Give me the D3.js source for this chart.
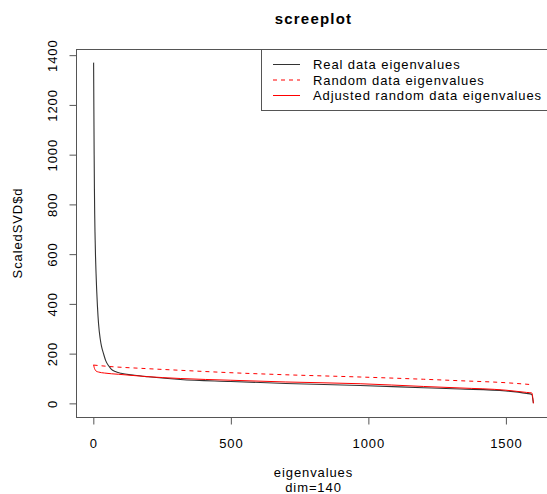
<!DOCTYPE html>
<html>
<head>
<meta charset="utf-8">
<script src="https://cdn.jsdelivr.net/npm/d3@7"></script>
<style>
  body { margin: 0; background: #fff; }
  svg text { font-family: "Liberation Sans", Arial, sans-serif; fill: #000; }
</style>
</head>
<body>
<div id="chart"></div>
<script>
// eigenvalue index / value pairs
var realX = [1, 2, 3, 4, 5, 6, 7, 8, 10, 12, 15, 19, 25, 30, 37, 45, 55, 65, 80, 100, 150, 200, 316, 500, 700, 970, 1200, 1333, 1500, 1575, 1594, 1600];
var realY = [1370, 1180, 1000, 860, 760, 690, 640, 590, 520, 460, 390, 320, 260, 228, 200, 172, 152, 138, 128, 121, 113, 107, 96, 88, 80, 72, 63, 58, 50, 40, 36, 1];

var randX = [1, 50, 189, 316, 485, 700, 970, 1200, 1333, 1500, 1598];
var randY = [154, 149, 140, 133, 124, 115, 106, 97, 91, 83, 75];

var adjX = [1, 3, 6, 10, 19, 40, 91, 189, 316, 500, 700, 970, 1200, 1333, 1500, 1575, 1594, 1600];
var adjY = [155, 145, 136, 130, 126, 122, 117, 108, 100, 93, 86, 79, 68, 62, 53, 44, 42, 0];

var xTicks = [0, 500, 1000, 1500];
var yTicks = [0, 200, 400, 600, 800, 1000, 1200, 1400];

var legendLabels = ["Real data eigenvalues", "Random data eigenvalues", "Adjusted random data eigenvalues"];

var draw_scree = function() {
    var width = 547, height = 494;
    var mLeft = 76, mRight = 551, mTop = 49, mBottom = 417;

    var svg = d3.select("#chart").append("svg")
        .attr("width", width)
        .attr("height", height);

    svg.append("rect")
        .attr("width", width)
        .attr("height", height)
        .attr("fill", "#fff");

    var x = d3.scaleLinear().domain([-63, 1664]).range([mLeft, mRight]);
    var y = d3.scaleLinear().domain([-54.8, 1424.8]).range([mBottom, mTop]);

    function pairs(xs, ys) {
        return xs.map((d, i) => [d, ys[i]]);
    }

    var line = d3.line()
        .x(d => x(d[0]))
        .y(d => y(d[1]))
        .curve(d3.curveMonotoneX);

    // plot box
    svg.append("rect")
        .attr("x", mLeft + 0.5)
        .attr("y", mTop + 0.5)
        .attr("width", mRight - mLeft)
        .attr("height", mBottom - mTop)
        .attr("fill", "none")
        .attr("stroke", "#555")
        .attr("stroke-width", 1);

    function styleTicks(g) {
        g.selectAll(".tick line").attr("stroke", "#555");
        g.selectAll(".tick text")
            .attr("dy", 0)
            .style("font-size", "13px")
            .style("letter-spacing", "0.9px")
            .style("font-family", "Liberation Sans, Arial, sans-serif")
            .attr("fill", "#000");
    }

    // axes
    var xAxis = d3.axisBottom(x).tickValues(xTicks).tickSize(7).tickFormat(d3.format("d"));
    var gx = svg.append("g")
        .attr("transform", "translate(0," + (mBottom + 0.5) + ")")
        .call(xAxis);
    gx.select(".domain").remove();
    gx.append("line")
        .attr("x1", x(0)).attr("x2", x(1500))
        .attr("stroke", "#555");
    styleTicks(gx);
    gx.selectAll(".tick text").attr("y", 30);

    var yAxis = d3.axisLeft(y).tickValues(yTicks).tickSize(7).tickFormat(d3.format("d"));
    var gy = svg.append("g")
        .attr("transform", "translate(" + (mLeft + 0.5) + ",0)")
        .call(yAxis);
    gy.select(".domain").remove();
    gy.append("line")
        .attr("y1", y(0)).attr("y2", y(1400))
        .attr("stroke", "#555");
    styleTicks(gy);
    gy.selectAll(".tick text")
        .attr("x", 0)
        .attr("y", 0)
        .attr("text-anchor", "middle")
        .attr("transform", "translate(-20,0) rotate(-90)");

    // series
    svg.append("path")
        .datum(pairs(randX, randY))
        .attr("d", line)
        .style("fill", "none")
        .style("stroke", "#ff0000")
        .style("stroke-width", 1)
        .style("stroke-dasharray", "4,4");

    svg.append("path")
        .datum(pairs(realX, realY))
        .attr("d", line)
        .style("fill", "none")
        .style("stroke", "#333")
        .style("stroke-width", 1.1);

    svg.append("path")
        .datum(pairs(adjX, adjY))
        .attr("d", line)
        .style("fill", "none")
        .style("stroke", "#ff0000")
        .style("stroke-width", 1);

    // legend
    var lg = svg.append("g");
    lg.append("rect")
        .attr("x", 261.5)
        .attr("y", mTop + 0.5)
        .attr("width", mRight - 261)
        .attr("height", 61)
        .attr("fill", "#fff")
        .attr("stroke", "#555");
    var legendStyles = [
        {stroke: "#333", dash: "none"},
        {stroke: "#ff0000", dash: "4,4"},
        {stroke: "#ff0000", dash: "none"}
    ];
    legendLabels.forEach((lab, i) => {
        var ly = 64.5 + i * 15.5;
        lg.append("line")
            .attr("x1", 273).attr("x2", 300)
            .attr("y1", ly).attr("y2", ly)
            .style("stroke", legendStyles[i].stroke)
            .style("stroke-width", 1)
            .style("stroke-dasharray", legendStyles[i].dash);
        lg.append("text")
            .attr("x", 313)
            .attr("y", ly + 4.5)
            .style("font-size", "13px")
            .style("letter-spacing", "0.9px")
            .text(lab);
    });

    // titles
    svg.append("text")
        .attr("x", (mLeft + mRight) / 2)
        .attr("y", 24)
        .attr("text-anchor", "middle")
        .style("font-size", "15px")
        .style("font-weight", "bold")
        .style("letter-spacing", "1.2px")
        .text("screeplot");

    svg.append("text")
        .attr("x", (mLeft + mRight) / 2)
        .attr("y", 477)
        .attr("text-anchor", "middle")
        .style("font-size", "13px")
        .style("letter-spacing", "0.9px")
        .text("eigenvalues");

    svg.append("text")
        .attr("x", (mLeft + mRight) / 2)
        .attr("y", 492)
        .attr("text-anchor", "middle")
        .style("font-size", "13px")
        .style("letter-spacing", "0.9px")
        .text("dim=140");

    svg.append("text")
        .attr("transform", "translate(21.5," + ((mTop + mBottom) / 2) + ") rotate(-90)")
        .attr("text-anchor", "middle")
        .style("font-size", "13px")
        .style("letter-spacing", "0.9px")
        .text("ScaledSVD$d");
}

draw_scree();
</script>
</body>
</html>
